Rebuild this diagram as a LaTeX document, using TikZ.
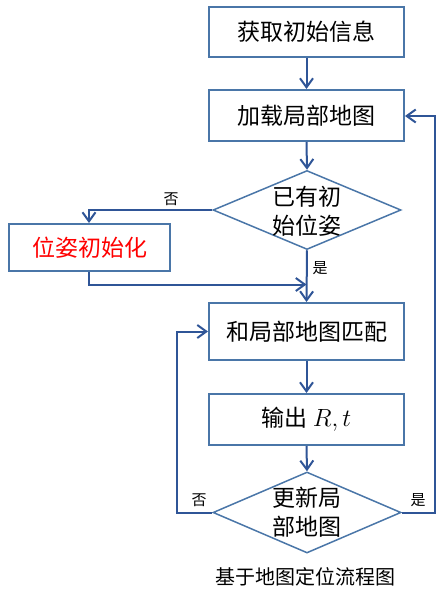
\documentclass[tikz,border=0pt]{standalone}
\usepackage{fontspec}
\setmainfont{Noto Sans CJK SC}
\usetikzlibrary{shapes.geometric,arrows.meta}
\definecolor{boxblue}{RGB}{74,118,168}
\definecolor{lineblue}{RGB}{47,85,151}
\tikzset{
  stepbox/.style={draw=boxblue, line width=2pt, fill=white, minimum width=195pt, minimum height=50pt, inner sep=0pt, font=\fontsize{23}{28}\selectfont},
  decision/.style={draw=boxblue, line width=1.5pt, diamond, minimum width=188pt, minimum height=79pt, inner sep=0pt},
  dtext/.style={align=center, font=\fontsize{23}{29}\selectfont},
  conn/.style={draw=lineblue, line width=2pt, -{Straight Barb[length=9pt,width=13pt,line width=2pt]}},
  lbl/.style={font=\fontsize{15}{17}\selectfont, inner sep=0pt},
}
\begin{document}
\begin{tikzpicture}[x=1pt,y=-1pt]
\useasboundingbox (0,0) rectangle (442,589);
\node[stepbox] (b1) at (306.5,31.5) {获取初始信息};
\node[stepbox, minimum height=51pt] (b2) at (306.5,115.5) {加载局部地图};
\node[decision] (d1) at (307,210) {};
\node[dtext] (d1t) at (307,211) {已有初\\始位姿};
\node[stepbox, minimum width=161pt, minimum height=47pt, text=red] (b0) at (89.5,247.5) {位姿初始化};
\node[stepbox, minimum height=57pt] (b3) at (306.5,331.5) {和局部地图匹配};
\node[stepbox, minimum height=51pt] (b4) at (306.5,419.5) {输出 $R,t$};
\node[decision, minimum height=81pt] (d2) at (307,512.5) {};
\node[dtext] (d2t) at (307,512) {更新局\\部地图};
\node[font=\fontsize{20}{22}\selectfont, inner sep=0pt] (cap) at (305,577) {基于地图定位流程图};

\coordinate (c1) at (89,210);
\coordinate (c2) at (89,284.5);
\coordinate (c3) at (306.5,284.5);
\coordinate (c4) at (177,512.5);
\coordinate (c5) at (177,331.5);
\coordinate (c6) at (435,512.5);
\coordinate (c7) at (435,116);

\draw[conn] (b1) -- (b2);
\draw[conn] (b2.south) -- (d1.north);
\draw[conn] (d1.west) -- (c1) -- (b0.north -| c1);
\draw[conn] (d1.south) -- (b3.north);
\draw[conn] (b0.south -| c2) -- (c2) -- (c3);
\draw[conn] (b3) -- (b4);
\draw[conn] (b4.south) -- (d2.north);
\draw[conn] (d2.west) -- (c4) -- (c5) -- (b3.west);
\draw[conn] (d2.east) -- (c6) -- (c7) -- (b2.east |- c7);

\node[lbl] (l1) at (171,199) {否};
\node[lbl] (l2) at (320,268) {是};
\node[lbl] (l3) at (199,500) {否};
\node[lbl] (l4) at (418,500) {是};
\end{tikzpicture}
\end{document}
